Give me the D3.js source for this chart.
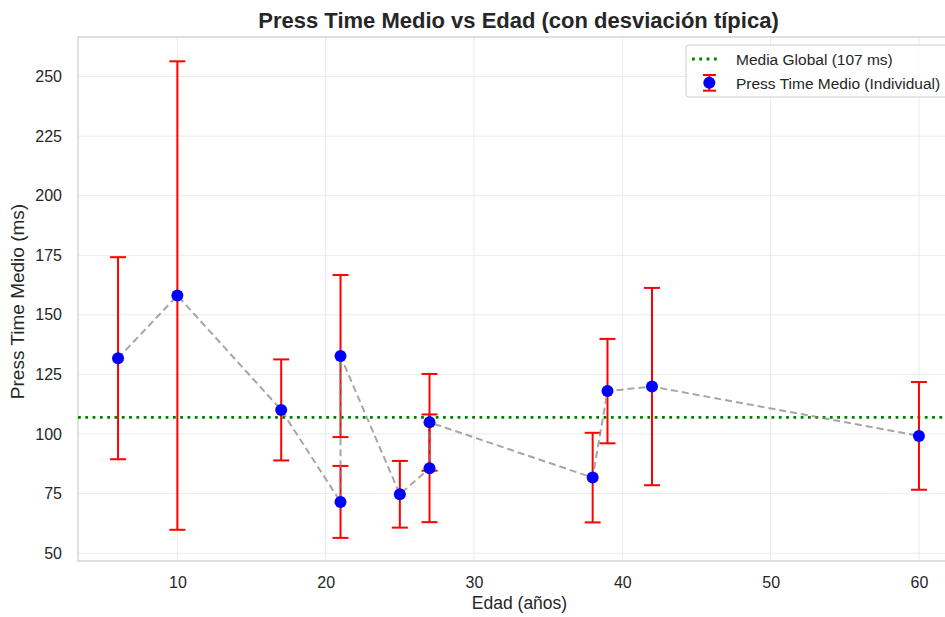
<!DOCTYPE html>
<html>
<head>
<meta charset="utf-8">
<script src="https://cdn.jsdelivr.net/npm/d3@7"></script>
<style>
  body { margin: 0; background: #fff; }
  svg { display: block; font-family: "Liberation Sans", Arial, sans-serif; }
</style>
</head>
<body>
<div id="chart"></div>
<script>
// Data (sorted by age, as plotted)
const ages  = [6, 10, 17, 21, 21, 25, 27, 27, 38, 39, 42, 60];
const means = [131.8, 158.1, 110.1, 71.5, 132.7, 74.7, 85.6, 104.9, 81.7, 118.0, 119.9, 99.2];
const stds  = [42.4, 98.3, 21.2, 15.1, 34.0, 14.0, 22.6, 20.3, 18.8, 21.9, 41.4, 22.6];
const globalMean = 107;
const xTicks = [10, 20, 30, 40, 50, 60];
const yTicks = [50, 75, 100, 125, 150, 175, 200, 225, 250];

const W = 945, H = 617;
const margin = {top: 37, right: -14, bottom: 56, left: 78};
const width = W - margin.left - margin.right;
const height = H - margin.top - margin.bottom;

const svg = d3.select("#chart").append("svg")
    .attr("width", W)
    .attr("height", H);

const g = svg.append("g")
    .attr("transform", `translate(${margin.left},${margin.top})`);

const x = d3.scaleLinear().domain([3.3, 62.7]).range([0, width]);
const y = d3.scaleLinear().domain([46.7, 266.6]).range([height, 0]);

// grid
g.append("g")
    .selectAll("line")
    .data(xTicks)
    .enter().append("line")
    .attr("x1", d => x(d)).attr("x2", d => x(d))
    .attr("y1", 0).attr("y2", height)
    .attr("stroke", "#ebebeb").attr("stroke-width", 1);
g.append("g")
    .selectAll("line")
    .data(yTicks)
    .enter().append("line")
    .attr("x1", 0).attr("x2", width)
    .attr("y1", d => y(d)).attr("y2", d => y(d))
    .attr("stroke", "#ebebeb").attr("stroke-width", 1);

// frame
g.append("rect")
    .attr("width", width).attr("height", height)
    .attr("fill", "none")
    .attr("stroke", "#cccccc").attr("stroke-width", 1.25);

// axes
const xAxis = g.append("g")
    .attr("transform", `translate(0,${height})`)
    .call(d3.axisBottom(x).tickValues(xTicks).tickSize(0).tickPadding(16));
const yAxis = g.append("g")
    .call(d3.axisLeft(y).tickValues(yTicks).tickSize(0).tickPadding(16));
[xAxis, yAxis].forEach(a => {
    a.select(".domain").remove();
    a.selectAll("text")
        .style("font-size", "16px")
        .style("font-family", "Liberation Sans, Arial, sans-serif")
        .attr("fill", "#262626");
});

// global mean line
g.append("line")
    .attr("x1", 0).attr("x2", width)
    .attr("y1", y(globalMean)).attr("y2", y(globalMean))
    .attr("stroke", "green").attr("stroke-width", 2.8)
    .attr("stroke-dasharray", "2.8,4.5");

const pts = ages.map((a, i) => ({age: a, mean: means[i], sd: stds[i]}));

// error bars
const eb = g.append("g").selectAll("g").data(pts).enter().append("g")
    .attr("stroke", "red").attr("stroke-width", 2);
eb.append("line")
    .attr("x1", d => x(d.age)).attr("x2", d => x(d.age))
    .attr("y1", d => y(d.mean - d.sd)).attr("y2", d => y(d.mean + d.sd));
eb.append("line")
    .attr("x1", d => x(d.age) - 8).attr("x2", d => x(d.age) + 8)
    .attr("y1", d => y(d.mean - d.sd)).attr("y2", d => y(d.mean - d.sd));
eb.append("line")
    .attr("x1", d => x(d.age) - 8).attr("x2", d => x(d.age) + 8)
    .attr("y1", d => y(d.mean + d.sd)).attr("y2", d => y(d.mean + d.sd));

// dashed connecting line
g.append("path")
    .datum(pts)
    .attr("fill", "none")
    .attr("stroke", "gray").attr("stroke-opacity", 0.7)
    .attr("stroke-width", 2)
    .attr("stroke-dasharray", "7,4")
    .attr("d", d3.line().x(d => x(d.age)).y(d => y(d.mean)));

// points
g.append("g").selectAll("circle").data(pts).enter().append("circle")
    .attr("cx", d => x(d.age)).attr("cy", d => y(d.mean))
    .attr("r", 6)
    .attr("fill", "blue");

// title and axis labels
svg.append("text")
    .attr("x", 518.5).attr("y", 28)
    .attr("text-anchor", "middle")
    .style("font-size", "22px").style("font-weight", "bold")
    .attr("fill", "#262626")
    .text("Press Time Medio vs Edad (con desviación típica)");
svg.append("text")
    .attr("x", 519.5).attr("y", 609)
    .attr("text-anchor", "middle")
    .style("font-size", "17.5px")
    .attr("fill", "#262626")
    .text("Edad (años)");
svg.append("text")
    .attr("transform", "translate(24,301.5) rotate(-90)")
    .attr("text-anchor", "middle")
    .style("font-size", "19px")
    .attr("fill", "#262626")
    .text("Press Time Medio (ms)");

// legend
const lg = svg.append("g").attr("transform", "translate(686,45)");
lg.append("rect")
    .attr("width", 300).attr("height", 52).attr("rx", 3)
    .attr("fill", "white").attr("fill-opacity", 0.8)
    .attr("stroke", "#cccccc");
lg.append("line")
    .attr("x1", 6).attr("x2", 35).attr("y1", 14).attr("y2", 14)
    .attr("stroke", "green").attr("stroke-width", 2.8)
    .attr("stroke-dasharray", "2.8,4.5");
lg.append("text").attr("x", 50).attr("y", 19.5)
    .style("font-size", "15.5px").attr("fill", "#262626")
    .text("Media Global (107 ms)");
const le = lg.append("g").attr("stroke", "red").attr("stroke-width", 2);
le.append("line").attr("x1", 23.3).attr("x2", 23.3).attr("y1", 30).attr("y2", 45.7);
le.append("line").attr("x1", 17).attr("x2", 30).attr("y1", 30).attr("y2", 30);
le.append("line").attr("x1", 17).attr("x2", 30).attr("y1", 45.7).attr("y2", 45.7);
lg.append("circle").attr("cx", 23.3).attr("cy", 37.7).attr("r", 6).attr("fill", "blue");
lg.append("text").attr("x", 50).attr("y", 43.5)
    .style("font-size", "15.5px").attr("fill", "#262626")
    .text("Press Time Medio (Individual)");
</script>
</body>
</html>
